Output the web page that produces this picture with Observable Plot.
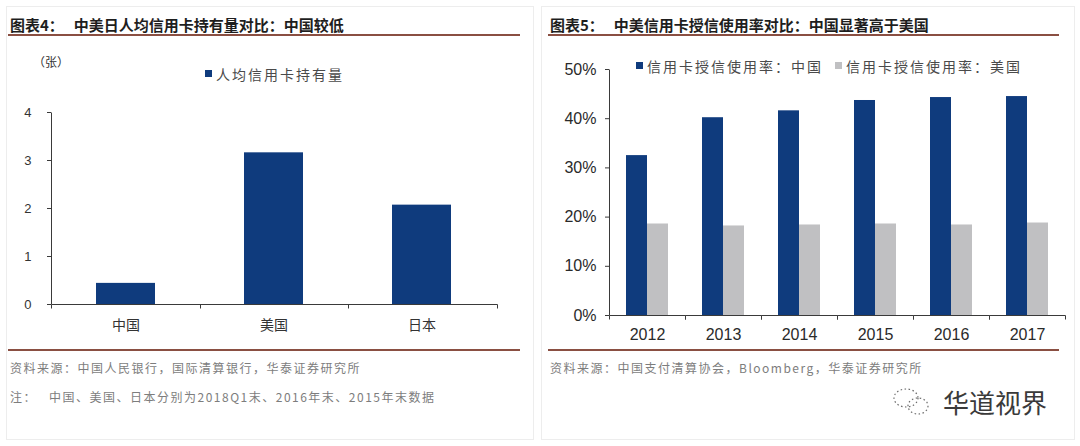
<!DOCTYPE html>
<html>
<head>
<meta charset="utf-8">
<script src="https://cdn.jsdelivr.net/npm/d3@7"></script>
<script src="https://cdn.jsdelivr.net/npm/@observablehq/plot@0.6"></script>
<style>
  body { margin: 0; background: #fff; }
  #root { position: relative; width: 1080px; height: 446px; overflow: hidden; background: #fff;
          font-family: "Liberation Sans", "Noto Sans CJK SC", sans-serif; }
  .abs { position: absolute; white-space: nowrap; line-height: 1; }
  .box { position: absolute; border: 1px solid #ededed; }
  .title { font-family: "Noto Sans CJK SC", sans-serif; font-weight: bold; font-size: 15px; color: #1e1e1e; }
  .rule { position: absolute; height: 2px; background: #8a4f42; }
  .src { font-family: "Noto Sans CJK SC", sans-serif; font-size: 12px; color: #7d7d7d; letter-spacing: 1.5px; }
  .leg { font-family: "Noto Sans CJK SC", sans-serif; font-size: 14px; color: #4a4a4a; letter-spacing: 2px; }
  .sq { position: absolute; width: 7px; height: 7px; }
  .chart { position: absolute; }
</style>
</head>
<body>
<div id="root">
  <div class="box" style="left:6px;top:6px;width:526px;height:432px;"></div>
  <div class="box" style="left:541px;top:6px;width:532px;height:432px;"></div>

  <div class="abs title" style="left:10px;top:17px;">图表4：<span style="margin-left:10px;">中美日人均信用卡持有量对比：中国较低</span></div>
  <div class="rule" style="left:8px;top:34px;width:512px;"></div>
  <div class="abs title" style="left:550px;top:17px;">图表5：<span style="margin-left:10px;">中美信用卡授信使用率对比：中国显著高于美国</span></div>
  <div class="rule" style="left:548px;top:34px;width:511px;"></div>

  <div class="abs" style="left:33px;top:56px;font-family:'Noto Sans CJK SC';font-size:12px;color:#333;">（张）</div>
  <div id="legL"></div>
  <div id="legR"></div>

  <div id="chartL" class="chart" style="left:0px;top:95px;"></div>
  <div id="chartR" class="chart" style="left:540px;top:55px;"></div>

  <div class="rule" style="left:8px;top:349px;width:512px;"></div>
  <div class="rule" style="left:548px;top:349px;width:511px;"></div>

  <div class="abs src" style="left:10px;top:362px;">资料来源：中国人民银行，国际清算银行，华泰证券研究所</div>
  <div class="abs src" style="left:10px;top:391px;">注：<span style="margin-left:12px;">中国、美国、日本分别为2018Q1末、2016年末、2015年末数据</span></div>
  <div class="abs src" style="left:550px;top:362px;">资料来源：中国支付清算协会，Bloomberg，华泰证券研究所</div>

  <svg class="abs" style="left:888px;top:384px;" width="48" height="36" viewBox="0 0 48 36">
    <g fill="none" stroke="#6a6a6a" stroke-width="1.2" stroke-dasharray="1.5 2.5">
      <ellipse cx="18" cy="14" rx="12" ry="9"/>
      <ellipse cx="30" cy="22" rx="10" ry="8"/>
    </g>
  </svg>
  <div class="abs" style="left:943px;top:389px;font-family:'Noto Sans CJK SC';font-size:26px;color:#3a3a3a;">华道视界</div>
</div>

<script>
// ---------- data ----------
const countries = ["中国", "美国", "日本"];
const cardsPerCapita = [0.44, 3.16, 2.07];
const leftTicks = [0, 1, 2, 3, 4];
const leftSeriesName = "人均信用卡持有量";

const years = ["2012", "2013", "2014", "2015", "2016", "2017"];
const chinaRate = [0.325, 0.402, 0.416, 0.437, 0.443, 0.445];
const usRate = [0.186, 0.182, 0.184, 0.186, 0.184, 0.188];
const seriesNames = ["信用卡授信使用率：中国", "信用卡授信使用率：美国"];
const rightTicks = [0, 0.1, 0.2, 0.3, 0.4, 0.5];

// ---------- styles ----------
const blue = "#0f3b7d";
const gray = "#c0c0c2";
const axisColor = "#3a3a3a";
const px = v => Math.round(v) + 0.5;

// ---------- left chart ----------
const leftData = countries.map((c, i) => ({country: c, value: cardsPerCapita[i]}));

function leftFrame(index, scales, values, dims) {
  const [xa, xb] = scales.x.range();
  const yb = scales.y(0), yt = scales.y(leftTicks[leftTicks.length - 1]);
  const step = scales.x.step();
  const dom = scales.x.domain();
  let d = `M${px(xa)},${px(yt)}V${px(yb)}H${px(xb)}`;
  for (let i = 0; i <= dom.length; i++) {
    const x = xa + scales.x.paddingOuter() * step + i * step - (i === 0 ? scales.x.paddingOuter() * step : 0);
  }
  for (let i = 0; i <= dom.length; i++) {
    const x = xa + (xb - xa) * i / dom.length;
    d += `M${px(x)},${px(yb)}v4`;
  }
  const g = d3.create("svg:g").attr("fill", "none").attr("stroke", axisColor);
  g.append("path").attr("d", d);
  return g.node();
}

const plotL = Plot.plot({
  width: 520, height: 245,
  marginLeft: 51, marginRight: 23, marginTop: 17, marginBottom: 36,
  style: {fontFamily: "'Liberation Sans','Noto Sans CJK SC',sans-serif", fontSize: "13px", color: "#333", background: "transparent", overflow: "visible"},
  x: {domain: countries, paddingInner: 0.6, paddingOuter: 0.3},
  y: {domain: [0, 4]},
  marks: [
    Plot.barY(leftData, {x: "country", y: "value", fill: blue}),
    Plot.axisY(leftTicks, {tickSize: 4, tickPadding: 16, label: null, fontSize: 13, stroke: axisColor}),
    Plot.axisX({tickSize: 0, tickPadding: 16, label: null, fontSize: 14, fontFamily: "'Noto Sans CJK SC',sans-serif"}),
    leftFrame
  ]
});
document.getElementById("chartL").append(plotL);

// left legend (HTML, above/over the chart)
{
  const leg = document.getElementById("legL");
  leg.innerHTML = `<div class="sq" style="left:205px;top:70px;background:${blue}"></div>
    <div class="abs leg" style="left:216px;top:67px;">${leftSeriesName}</div>`;
}

// ---------- right chart ----------
const rightData = [];
years.forEach((y, i) => {
  rightData.push({year: y, series: seriesNames[0], value: chinaRate[i]});
  rightData.push({year: y, series: seriesNames[1], value: usRate[i]});
});
const rightAxisData = years.map(y => ({year: y}));

function rightFrame(index, scales, values, dims) {
  const [xa, xb] = scales.x.range();
  const yb = scales.y(0), yt = scales.y(rightTicks[rightTicks.length - 1]);
  let d = `M${px(xa)},${px(yb)}H${px(xb)}M${px(xa)},${px(yb)}v4M${px(xb)},${px(yb)}v4`;
  if (index.length && rightAxisData[index[0]].year === years[0]) d += `M${px(xa)},${px(yt)}V${px(yb)}`;
  const g = d3.create("svg:g").attr("fill", "none").attr("stroke", axisColor);
  g.append("path").attr("d", d);
  return g.node();
}

const plotR = Plot.plot({
  width: 530, height: 300,
  marginLeft: 68, marginRight: 4, marginTop: 14, marginBottom: 40,
  style: {fontFamily: "'Liberation Sans',sans-serif", fontSize: "16px", color: "#2a2a2a", background: "transparent", overflow: "visible"},
  fx: {domain: years, padding: 0, label: null},
  x: {domain: seriesNames, paddingInner: 0, paddingOuter: 0.77, axis: null},
  y: {domain: [0, 0.5]},
  color: {domain: seriesNames, range: [blue, gray]},
  marks: [
    Plot.barY(rightData, {fx: "year", x: "series", y: "value", fill: "series"}),
    Plot.axisY(rightTicks, {tickSize: 4, tickPadding: 9, tickFormat: d3.format(".0%"), label: null, fontSize: 16, stroke: axisColor}),
    Plot.axisFx({anchor: "bottom", tickSize: 0, tickPadding: 13, label: null, fontSize: 16}),
    Plot.ruleY(rightAxisData, {fx: "year", y: () => 0, render: rightFrame})
  ]
});
document.getElementById("chartR").append(plotR);

{
  const leg = document.getElementById("legR");
  leg.innerHTML = `<div class="sq" style="left:636px;top:62px;background:${blue}"></div>
    <div class="abs leg" style="left:647px;top:59px;">${seriesNames[0]}</div>
    <div class="sq" style="left:835px;top:62px;background:${gray}"></div>
    <div class="abs leg" style="left:846px;top:59px;">${seriesNames[1]}</div>`;
}
</script>
</body>
</html>
